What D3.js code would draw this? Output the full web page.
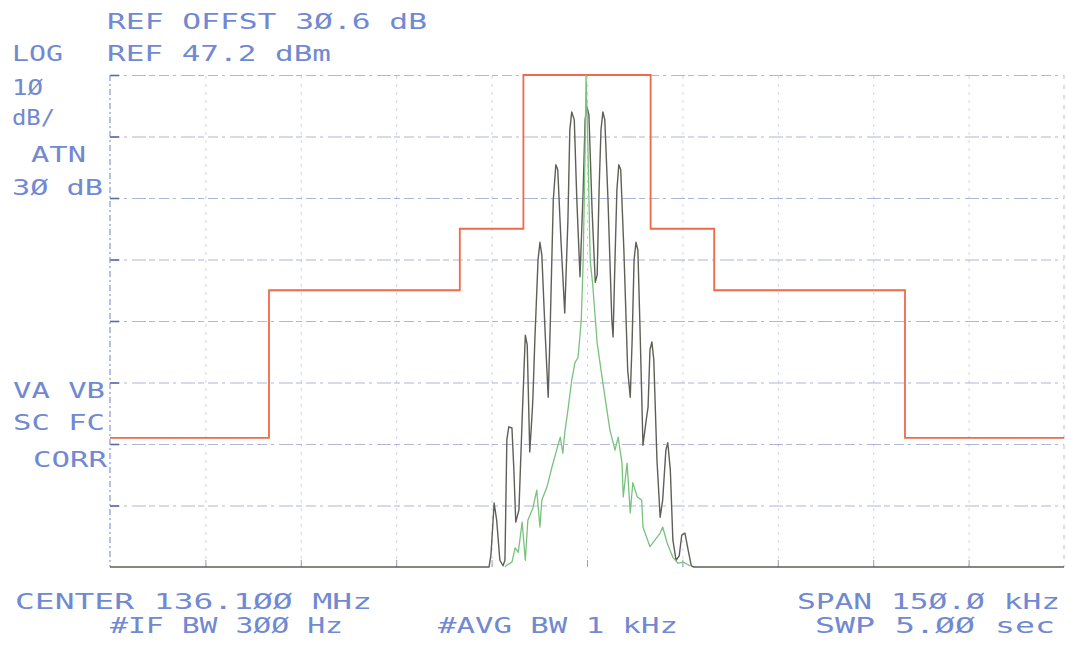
<!DOCTYPE html>
<html>
<head>
<meta charset="utf-8">
<script src="https://cdn.jsdelivr.net/npm/d3@7"></script>
<style>
  html, body { margin: 0; padding: 0; background: #ffffff; }
  svg { display: block; }
  .lbl { font-family: "DejaVu Sans Mono", "Liberation Mono", monospace; font-size: 21px; font-weight: 300; fill: #7189d2; }
</style>
</head>
<body>
<svg id="chart" width="1067" height="649"></svg>
<script>
// ---- data (frequency offset from center in kHz, level in dBm) ----
const refLevel = 47.2;        // dBm (top of screen)
const dbPerDiv = 10;
const numDivY = 8;
const spanKHz = 150;
const numDivX = 10;

// limit mask (steps)
const maskFreq  = [-75, -50, -20, -10, 10, 20, 50, 75];
const maskLevel = [-11.8, 12.2, 22.2, 47.2, 22.2, 12.2, -11.8, -11.8];

// max-hold trace (dark)
const maxFreq = [-75,-15.4,-15.1,-14.6,-14.2,-13.7,-13.2,-12.9,-12.6,-12.3,-11.8,-11.5,-11.2,-10.7,-10.2,-9.7,-9.4,-9.0,-8.6,-8.5,-8.2,-7.7,-7.4,-7.1,-6.6,-6.1,-5.8,-5.3,-4.9,-4.6,-4.1,-3.5,-3.0,-2.7,-2.4,-2.0,-1.6,-1.1,-0.6,-0.3,0,0.3,0.8,1.3,1.6,1.9,2.2,2.5,2.8,3.3,3.9,4.1,4.4,4.7,5.0,5.3,5.8,6.4,6.8,7.1,7.4,7.7,8.0,8.3,8.8,9.3,9.6,9.9,10.2,10.5,11.0,11.5,11.9,12.4,12.7,13.1,13.5,14.0,14.5,14.9,15.4,15.9,16.4,16.8,75];
const maxLevel = [-32.8,-32.8,-30.8,-22.4,-25.2,-31.7,-32.6,-31.7,-12.1,-10.0,-10.2,-17.0,-25.5,-23.5,-8.9,4.9,3.3,-14.1,-7.3,-5.2,4.1,17.1,20.0,17.9,5.7,-5.2,5.7,26.9,32.6,31.8,20.4,8.5,23.6,38.3,41.2,39.9,26.9,14.4,28.5,39.9,42.0,40.7,25.2,13.5,14.7,28.5,38.3,41.2,39.9,26.9,7.4,4.6,17.1,28.5,32.6,31.8,18.7,-0.8,-5.2,4.1,17.1,20.0,18.7,7.4,-13.0,-9.0,-6.8,2.5,3.8,0.9,-15.4,-24.7,-21.9,-13.8,-12.6,-17.0,-28.4,-31.7,-31.0,-27.6,-27.3,-30.0,-32.6,-32.8,-32.8];

// averaged trace (green)
const avgFreq = [-12.9,-12.6,-11.8,-11.3,-10.8,-10.2,-9.7,-9.3,-8.5,-7.9,-7.4,-7.1,-6.3,-5.5,-4.7,-4.2,-3.8,-3.5,-3.0,-2.4,-1.9,-1.4,-0.9,-0.6,-0.3,-0.15,0.15,0.5,0.9,1.6,2.5,3.6,4.4,4.9,5.5,5.7,6.3,6.8,7.2,7.9,8.6,8.8,9.9,10.7,11.5,11.9,12.6,13.5,14.3,15.1,16.2];
const avgLevel = [-32.8,-32.5,-32.0,-29.7,-30.4,-25.5,-31.7,-25.2,-23.2,-20.3,-26.3,-21.9,-19.8,-16.5,-13.5,-11.7,-14.3,-11.0,-7.3,-2.4,0.4,1.3,7.4,17.1,35.0,47.2,35.0,17.1,13.1,3.6,-2.9,-10.5,-13.8,-11.7,-15.9,-21.4,-15.9,-24.0,-19.1,-21.4,-21.9,-26.3,-29.5,-28.4,-27.3,-26.3,-28.9,-31.2,-32.2,-32.0,-32.6];

// annotation texts
const headerLines = [
  {t: "REF OFFST 3\u00D8.6 dB", x: 107, y: 29, w: 320},
  {t: "LOG",                   x: 12,  y: 61, w: 51},
  {t: "REF 47.2 dBm",          x: 107, y: 61, w: 224},
  {t: "1\u00D8",               x: 12,  y: 95, w: 31},
  {t: "dB/",                   x: 12,  y: 125, w: 43},
  {t: "ATN",                   x: 31,  y: 162, w: 55},
  {t: "3\u00D8 dB",            x: 12,  y: 195, w: 91},
  {t: "VA VB",                 x: 13,  y: 398, w: 92},
  {t: "SC FC",                 x: 13,  y: 430, w: 92},
  {t: "CORR",                  x: 33,  y: 467, w: 74}
];
const footerLines = [
  {t: "CENTER 136.1\u00D8\u00D8 MHz", x: 15,  y: 609, w: 357},
  {t: "SPAN 15\u00D8.\u00D8 kHz",     x: 797, y: 609, w: 263},
  {t: "#IF BW 3\u00D8\u00D8 Hz",      x: 110, y: 633, w: 233},
  {t: "#AVG BW 1 kHz",                x: 438, y: 633, w: 240},
  {t: "SWP 5.\u00D8\u00D8 sec",       x: 815, y: 633, w: 240}
];

// ---- drawing ----
const svg = d3.select("#chart");
const L = 110, R = 1064, T = 75, B = 567;
const bottomLevel = refLevel - dbPerDiv * numDivY;

const x = d3.scaleLinear().domain([-spanKHz / 2, spanKHz / 2]).range([L, R]);
const y = d3.scaleLinear().domain([bottomLevel, refLevel]).range([B, T]);

const yTicks = d3.range(numDivY + 1).map(i => bottomLevel + i * dbPerDiv);
const xTicks = d3.range(numDivX + 1).map(i => -spanKHz / 2 + i * spanKHz / numDivX);

// vertical grid (faint)
const gx = svg.append("g")
  .attr("transform", `translate(0,${B})`)
  .call(d3.axisBottom(x).tickValues(xTicks.slice(1, -1)).tickSize(-(B - T)).tickFormat(""));
gx.select(".domain").remove();
gx.selectAll(".tick line")
  .attr("stroke", "#d3d7e6").attr("stroke-width", 1).attr("stroke-dasharray", "3,5");

// small tick at the bottom of vertical gridlines
const gx2 = svg.append("g")
  .attr("transform", `translate(0,${B})`)
  .call(d3.axisBottom(x).tickValues(xTicks.slice(1, -1)).tickSize(-7).tickFormat(""));
gx2.select(".domain").remove();
gx2.selectAll(".tick line").attr("stroke", "#9aa0b0").attr("stroke-width", 1);

// horizontal grid (dashed)
const gy = svg.append("g")
  .attr("transform", `translate(${L},0)`)
  .call(d3.axisLeft(y).tickValues(yTicks.slice(1)).tickSize(-(R - L)).tickFormat(""));
gy.select(".domain").remove();
gy.selectAll(".tick line")
  .attr("stroke", "#7c87bb").attr("stroke-width", 1.1).attr("stroke-opacity", 0.6)
  .attr("stroke-dasharray", "10,4,3,5,14,3,6,4");

// left tick stubs
const gy2 = svg.append("g")
  .attr("transform", `translate(${L},0)`)
  .call(d3.axisLeft(y).tickValues(yTicks.slice(1)).tickSize(-9).tickFormat(""));
gy2.select(".domain").remove();
gy2.selectAll(".tick line").attr("stroke", "#5d6aa8").attr("stroke-width", 1.6);

// left and right borders
svg.append("line").attr("x1", L).attr("x2", L).attr("y1", T).attr("y2", B)
  .attr("stroke", "#7f8fcf").attr("stroke-width", 1.1).attr("stroke-dasharray", "6,3,2,3");
svg.append("line").attr("x1", R).attr("x2", R).attr("y1", T).attr("y2", B)
  .attr("stroke", "#b8bfdc").attr("stroke-width", 1).attr("stroke-dasharray", "4,6");

// limit mask
const maskData = maskFreq.map((f, i) => [f, maskLevel[i]]);
svg.append("path")
  .datum(maskData)
  .attr("fill", "none")
  .attr("stroke", "#ef6a48")
  .attr("stroke-width", 1.8)
  .attr("d", d3.line().x(d => x(d[0])).y(d => y(d[1])).curve(d3.curveStepAfter));

// max hold trace
const maxData = maxFreq.map((f, i) => [f, maxLevel[i]]);
svg.append("path")
  .datum(maxData)
  .attr("fill", "none")
  .attr("stroke", "#5e5f55")
  .attr("stroke-width", 1.4)
  .attr("stroke-linejoin", "round")
  .attr("d", d3.line().x(d => x(d[0])).y(d => y(d[1])));

// average trace
const avgData = avgFreq.map((f, i) => [f, avgLevel[i]]);
svg.append("path")
  .datum(avgData)
  .attr("fill", "none")
  .attr("stroke", "#79c27d")
  .attr("stroke-width", 1.3)
  .attr("stroke-linejoin", "round")
  .attr("d", d3.line().x(d => x(d[0])).y(d => y(d[1])));

// texts
const allText = headerLines.concat(footerLines);
svg.append("g").selectAll("text")
  .data(allText)
  .join("text")
  .attr("class", "lbl")
  .attr("x", d => d.x)
  .attr("y", d => d.y)
  .attr("textLength", d => d.w)
  .attr("lengthAdjust", "spacingAndGlyphs")
  .style("white-space", "pre")
  .text(d => d.t);
</script>
</body>
</html>
